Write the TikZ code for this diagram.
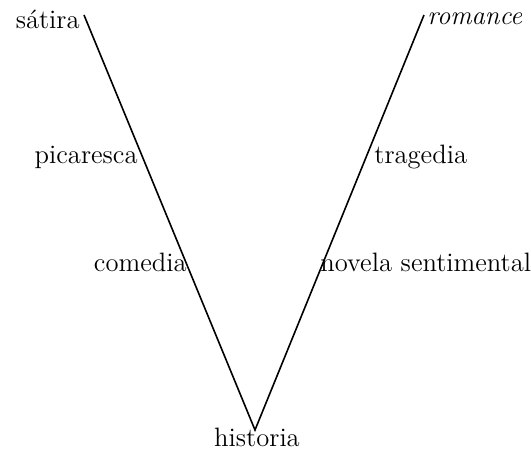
\documentclass[tikz,border=0pt]{standalone}
\usepackage{tikz}
\usetikzlibrary{positioning}

\tikzset{
    genre/.style={font=\fontsize{13.3}{16}\selectfont, inner sep=1.5pt},
    vline/.style={line width=0.8pt}
}

\begin{document}
\begin{tikzpicture}[x=0.5pt, y=-0.5pt]
            \useasboundingbox (0,0) rectangle (531,453);
            % vertices of the V
            \coordinate (topleft) at (84,15);
            \coordinate (topright) at (424,15);
            \coordinate (bottom) at (255,430);
            \draw[vline] (topleft) -- (bottom) -- (topright);
            % left arm
            \node[genre, anchor=east] (satira) at (83,19) {sátira};
            \node[genre, anchor=east] (picaresca) at (141,157) {picaresca};
            \node[genre, anchor=east] (comedia) at (190,262) {comedia};
            % right arm
            \node[genre, anchor=west] (romance) at (424,19) {\itshape romance};
            \node[genre, anchor=west] (tragedia) at (371,157) {tragedia};
            \node[genre, anchor=west] (novela) at (317,262) {novela sentimental};
            % bottom
            \node[genre, below=-2.5pt of bottom, xshift=1pt] (historia) {historia};
        \end{tikzpicture}
\end{document}
